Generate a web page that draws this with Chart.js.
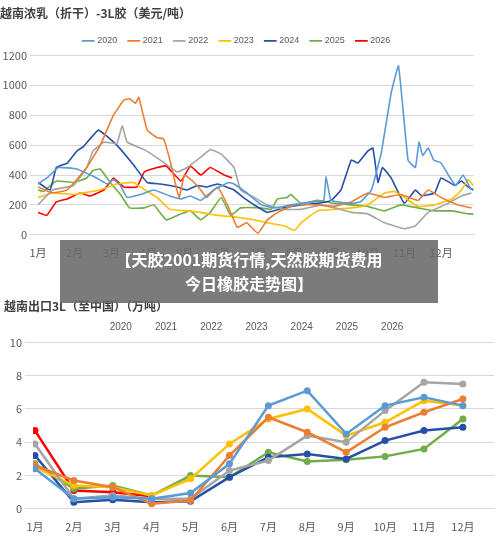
<!DOCTYPE html>
<html><head><meta charset="utf-8">
<script src="https://cdn.jsdelivr.net/npm/chart.js@4/dist/chart.umd.min.js"></script>
<style>
body{margin:0;width:500px;height:546px;background:#fff;position:relative;overflow:hidden;font-family:"Noto Sans CJK SC",sans-serif}
#a{position:absolute;left:0;top:0;width:500px;height:262px}
#b{position:absolute;left:0;top:290px;width:500px;height:246px}
#ban{position:absolute;left:60px;top:240px;width:378px;height:63px;background:rgba(105,105,105,0.88);color:#fff;font:bold 16px "Noto Sans CJK SC";text-align:center;line-height:24px;padding-top:7px;box-sizing:border-box}
</style></head><body>
<div id="a"><canvas id="c1"></canvas></div>
<div id="b"><canvas id="c2"></canvas></div>
<div id="ban">【天胶2001期货行情,天然胶期货费用<br>今日橡胶走势图】</div>
<script>
const years=['2020','2021','2022','2023','2024','2025','2026'];
const colors=['#5b9bd5','#ed7d31','#a5a5a5','#ffc000','#264fa8','#70ad47','#ff0000'];
const months=['1月','2月','3月','4月','5月','6月','7月','8月','9月','10月','11月','12月'];
// top chart: x in months since Jan, y USD/t
const x2020=[0,0.24,0.56,1.06,1.6,1.9,2.06,2.25,2.43,2.8,3.16,3.6,3.9,4.16,4.44,4.8,5.2,5.35,5.7,6.1,6.45,6.9,7.5,7.8,7.86,8.0,8.55,8.8,9.1,9.37,9.64,9.84,10.1,10.3,10.4,10.5,10.65,10.8,11.0,11.2,11.4,11.6,11.83];
const y2020=[340,380,450,440,380,340,370,330,250,270,300,260,240,260,230,300,350,340,280,200,180,200,220,230,390,230,210,220,300,550,950,1130,500,450,620,530,580,500,480,400,330,400,300];
const x2021=[0,0.4,0.8,1.33,1.7,2.06,2.34,2.5,2.66,2.75,2.98,3.25,3.43,3.6,3.85,4.0,4.26,4.44,4.6,4.9,5.17,5.44,5.7,6.0,6.26,6.54,7.0,7.6,8.1,8.55,9.0,9.46,9.9,10.37,10.65,11.0,11.47,11.83];
const y2021=[320,280,300,450,600,800,900,910,880,920,700,650,640,500,250,400,350,300,250,320,200,50,80,10,100,150,200,200,190,220,280,250,270,230,300,250,200,180];
const x2022=[0,0.4,0.97,1.33,1.5,1.8,2.15,2.3,2.43,2.9,3.34,3.8,4.07,4.44,4.7,5.0,5.35,5.53,5.9,6.26,6.72,7.18,7.73,8.1,8.55,9.0,9.46,10.0,10.3,10.65,11.1,11.56,11.83];
const y2022=[200,300,330,450,560,620,610,730,620,570,500,420,450,520,570,540,450,300,250,200,170,170,200,180,150,140,80,40,60,150,200,260,280];
const x2023=[0,0.4,0.97,1.7,2.15,2.6,2.98,3.25,3.6,4.07,4.44,4.9,5.35,5.9,6.26,6.72,7.0,7.18,7.63,8.1,8.55,9.0,9.46,9.73,10.0,10.37,10.83,11.3,11.56,11.74,11.88];
const y2023=[250,280,270,300,340,350,290,250,170,160,150,130,120,100,80,60,30,80,160,170,180,200,280,290,250,190,200,240,300,370,330];
const x2024=[0,0.33,0.5,0.8,1.06,1.24,1.65,2.15,2.6,2.98,3.34,3.8,4.07,4.35,4.6,4.9,5.35,5.6,5.9,6.26,6.72,7.18,7.63,8.0,8.27,8.55,8.73,9.0,9.14,9.28,9.4,9.64,10.0,10.3,10.47,10.83,11.0,11.38,11.56,11.74,11.88];
const y2024=[350,300,450,480,560,590,700,600,470,350,340,320,300,330,320,340,300,250,200,150,180,200,210,230,300,500,480,560,580,350,450,380,210,300,260,280,380,330,360,320,300];
const x2025=[0,0.15,0.5,0.97,1.33,1.5,1.7,1.97,2.25,2.5,2.9,3.16,3.5,3.9,4.16,4.44,4.7,5.0,5.26,5.53,6.08,6.36,6.54,6.8,6.9,7.18,7.63,8.1,8.55,9.0,9.46,9.9,10.37,10.83,11.3,11.74,11.88];
const y2025=[300,290,360,350,380,430,440,350,270,180,180,200,100,140,160,100,150,250,130,180,180,170,240,250,270,210,230,210,200,190,160,200,180,160,160,140,140];
const x2026=[0,0.24,0.5,0.8,1.15,1.42,1.8,2.06,2.34,2.7,2.9,3.25,3.5,3.9,4.16,4.44,4.7,5.08,5.3];
const y2026=[150,130,220,240,280,260,300,380,320,320,420,450,460,360,460,400,450,400,380];
// bottom chart: monthly exports (10k t)
const e2020=[2.4,0.6,0.7,0.6,0.95,2.7,6.2,7.1,4.5,6.2,6.7,6.2];
const e2021=[2.6,1.7,1.3,0.3,0.5,3.2,5.5,4.6,3.4,4.9,5.8,6.6];
const e2022=[3.9,0.6,0.8,0.6,0.6,2.3,2.9,4.4,4.0,5.9,7.6,7.5];
const e2023=[2.5,1.4,1.3,0.8,1.8,3.9,5.4,6.0,4.4,5.2,6.5,6.2];
const e2024=[3.2,0.4,0.55,0.4,0.45,1.9,3.1,3.3,3.0,4.1,4.7,4.9];
const e2025=[2.7,1.2,1.4,0.8,2.0,1.9,3.4,2.85,2.95,3.15,3.6,5.4];
const e2026=[4.7,1.1,1.0,0.75];

const tick={color:'#595959',font:{size:11,family:'"Noto Sans CJK SC"'}};
function xy(xs,ys){return xs.map((x,i)=>({x:x,y:ys[i]}));}
const monthTicks=s=>{s.ticks=months.map((m,i)=>({value:i}));};
const topX=[x2020,x2021,x2022,x2023,x2024,x2025,x2026], topY=[y2020,y2021,y2022,y2023,y2024,y2025,y2026];
new Chart(document.getElementById('c1'),{type:'line',
 data:{datasets:years.map((y,i)=>({label:y,data:xy(topX[i],topY[i]),borderColor:colors[i],backgroundColor:colors[i],borderWidth:1.6,pointRadius:0,tension:0.1}))},
 options:{responsive:true,maintainAspectRatio:false,animation:false,
  layout:{padding:{left:0,right:26,top:2,bottom:0}},
  plugins:{title:{display:true,text:'越南浓乳（折干）-3L胶（美元/吨）',align:'start',color:'#404040',font:{size:12,weight:'bold',family:'"Noto Sans CJK SC"'},padding:{top:4,bottom:4}},
   legend:{labels:{usePointStyle:true,pointStyle:'line',boxWidth:26,color:'#595959',font:{size:9},padding:12}},tooltip:{enabled:false}},
  scales:{x:{type:'linear',min:0,max:11.9,afterBuildTicks:monthTicks,grid:{display:false},border:{color:'#d9d9d9'},ticks:{...tick,autoSkip:false,maxRotation:0,callback:v=>months[v]}},
   y:{min:0,max:1200,afterFit:s=>{s.width=38},ticks:{...tick,stepSize:200,callback:v=>String(v)},grid:{color:'#d9d9d9'},border:{display:false}}}}});
const bot=[e2020,e2021,e2022,e2023,e2024,e2025,e2026];
new Chart(document.getElementById('c2'),{type:'line',
 data:{datasets:years.map((y,i)=>({label:y,data:xy(bot[i].map((v,j)=>j),bot[i]),borderColor:colors[i],backgroundColor:colors[i],borderWidth:2.5,pointRadius:3.5,pointBorderWidth:0,tension:0}))},
 options:{responsive:true,maintainAspectRatio:false,animation:false,
  layout:{padding:{left:4,right:6,top:0,bottom:0}},
  plugins:{title:{display:true,text:'越南出口3L（至中国）（万吨）',align:'start',color:'#404040',font:{size:12,weight:'bold',family:'"Noto Sans CJK SC"'},padding:{top:9,bottom:1}},
   legend:{labels:{usePointStyle:true,pointStyle:'line',boxWidth:26,color:'#595959',font:{size:10},padding:8}},tooltip:{enabled:false}},
  scales:{x:{type:'linear',min:-0.05,max:11.8,afterBuildTicks:monthTicks,grid:{display:false},border:{color:'#d9d9d9'},ticks:{...tick,autoSkip:false,maxRotation:0,callback:v=>months[v]}},
   y:{min:0,max:10,afterFit:s=>{s.width=29},ticks:{...tick,stepSize:2},grid:{color:'#d9d9d9'},border:{display:false}}}}});
</script></body></html>
